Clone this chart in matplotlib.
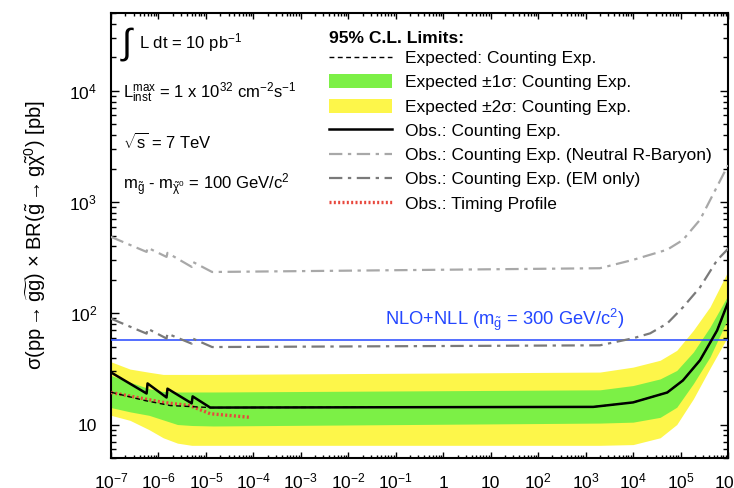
import numpy as np
import matplotlib
matplotlib.use("Agg")
import matplotlib.pyplot as plt
from matplotlib.ticker import LogLocator, FixedLocator, FixedFormatter, NullFormatter
from matplotlib.lines import Line2D
from matplotlib.patches import Patch

plt.rcParams["font.family"] = ["Liberation Sans", "DejaVu Sans"]
plt.rcParams["mathtext.fontset"] = "custom"
plt.rcParams["mathtext.rm"] = "Liberation Sans"
plt.rcParams["mathtext.it"] = "Liberation Sans"
plt.rcParams["mathtext.bf"] = "Liberation Sans:bold"
plt.rcParams["mathtext.sf"] = "Liberation Sans"
plt.rcParams["mathtext.default"] = "rm"

# ---- data: gluino lifetime [s] (log10) vs cross-section limit [pb] ----
obs_logx = [-7, -6.25, -6.23, -5.83, -5.81, -5.30, -5.28, -4.91, 3.16, 4.0, 4.72, 5.05, 5.41, 5.77, 6.0]
obs_y = [29.4, 19.0, 23.4, 17.5, 21.0, 15.5, 17.9, 14.2, 14.4, 15.8, 19.4, 24.9, 37.8, 70.0, 125.0]

exp_logx = [-7, -6.28, -5.75, -4.9, 3.16, 4.0, 4.72, 5.05, 5.41, 5.77, 6.0]
exp_y = [19.5, 16.4, 14.8, 14.2, 14.4, 15.8, 19.4, 24.9, 37.8, 70.0, 125.0]

band_logx = [-7, -6.6, -6.2, -5.9, -5.6, -5.3, -4.85, 3.30, 4.0, 4.57, 4.92, 5.27, 5.62, 5.98]
one_sig_hi = [27.6, 24.0, 21.0, 19.8, 19.6, 19.6, 19.6, 20.5, 22.4, 25.7, 30.6, 44.8, 75.0, 140.0]
one_sig_lo = [14.2, 13.0, 12.1, 11.0, 10.0, 9.8, 9.7, 10.3, 10.5, 11.6, 14.3, 23.3, 40.4, 86.5]
two_sig_hi = [36.6, 31.5, 29.5, 28.2, 28.2, 28.2, 28.2, 29.6, 32.8, 37.8, 46.4, 70.3, 114.0, 230.0]
two_sig_lo = [12.1, 10.9, 9.0, 7.6, 6.8, 6.5, 6.5, 6.5, 6.6, 7.6, 10.0, 17.0, 32.0, 60.0]

timing_logx = [-7, -5.90, -5.34, -4.91, -4.07]
timing_y = [19.4, 15.8, 14.8, 12.5, 11.6]

neutral_logx = [-7, -6.25, -6.23, -5.83, -5.81, -5.30, -5.28, -4.87, 3.30, 4.0, 4.72, 5.05, 5.41, 6.0]
neutral_y = [486, 356, 389, 321, 349, 261, 290, 235, 254, 302, 373, 456, 692, 2140]

em_logx = [-7, -6.25, -6.23, -5.83, -5.81, -5.30, -5.28, -4.87, 3.30, 4.0, 4.36, 4.72, 5.05, 5.41, 5.77, 6.04]
em_y = [89.5, 65.6, 72.8, 59.3, 65.6, 53.3, 59.3, 49.7, 51.5, 59.6, 66.0, 81.0, 113.0, 171.0, 300.0, 395.0]

nlo_xsec = 57.0  # NLO+NLL, m_gluino = 300 GeV/c^2

xtick_exp = list(range(-7, 7))
xtick_labels = ["$10^{%d}$" % e if e not in (0, 1) else ("1" if e == 0 else "10") for e in xtick_exp]
ytick_vals = [10, 100, 1000, 10000]
ytick_labels = ["10", "$10^{2}$", "$10^{3}$", "$10^{4}$"]

# ---- figure ----
W, H = 734, 488
fig = plt.figure(figsize=(W / 100, H / 100), dpi=100)
ax = fig.add_axes([111 / W, 30 / H, 617 / W, 445 / H])

GREEN = "#7cf046"
YELLOW = "#fdf64a"

bx = 10.0 ** np.array(band_logx)
ax.fill_between(bx, two_sig_lo, two_sig_hi, color=YELLOW, lw=0, zorder=1)
ax.fill_between(bx, one_sig_lo, one_sig_hi, color=GREEN, lw=0, zorder=2)

ax.axhline(nlo_xsec, color="#2447ff", lw=1.1, zorder=3)

ax.plot(10.0 ** np.array(neutral_logx), neutral_y, color="#a8a8a8", lw=1.6,
        dashes=(6, 2.5, 1.5, 2.5), zorder=4)
ax.plot(10.0 ** np.array(em_logx), em_y, color="#7a7a7a", lw=1.6,
        dashes=(6, 2.5, 1.5, 2.5), zorder=4)
ax.plot(10.0 ** np.array(obs_logx), obs_y, color="black", lw=1.8, zorder=5)
ax.plot(10.0 ** np.array(exp_logx), exp_y, color="black", lw=1.0,
        dashes=(3.5, 2.5), zorder=6)
ax.plot(10.0 ** np.array(timing_logx), timing_y, color="#e8473c", lw=2.4,
        dashes=(0.6, 0.7), zorder=5)

ax.set_xscale("log")
ax.set_yscale("log")
ax.set_xlim(1e-7, 1e6)
ax.set_ylim(5, 5e4)

ax.xaxis.set_major_locator(FixedLocator([10.0 ** e for e in xtick_exp]))
ax.xaxis.set_major_formatter(FixedFormatter(xtick_labels))
ax.xaxis.set_minor_locator(LogLocator(base=10, subs=np.arange(2, 10), numticks=100))
ax.xaxis.set_minor_formatter(NullFormatter())
ax.yaxis.set_major_locator(FixedLocator(ytick_vals))
ax.yaxis.set_major_formatter(FixedFormatter(ytick_labels))
ax.yaxis.set_minor_locator(LogLocator(base=10, subs=np.arange(2, 10), numticks=100))
ax.yaxis.set_minor_formatter(NullFormatter())

ax.tick_params(which="both", direction="in", top=True, right=True, width=1.0, labelsize=12.5)
ax.tick_params(axis="x", which="major", length=4, pad=21.6)
ax.tick_params(axis="x", which="minor", length=2)
ax.tick_params(axis="y", which="major", length=6, pad=10)
ax.tick_params(axis="y", which="minor", length=3.5)
for t in ax.xaxis.get_major_ticks():
    t.label1.set_verticalalignment("baseline")
for s in ax.spines.values():
    s.set_linewidth(1.5)

ax.set_ylabel(r"σ(pp$\rightarrow\widetilde{\mathrm{gg}}$) $\times$ BR($\tilde{\mathrm{g}}\rightarrow$g$\tilde{\chi}^{0}$) [pb]",
              fontsize=14.5, labelpad=15)

# ---- annotations ----
fkw = dict(transform=fig.transFigure, fontsize=12, va="center", ha="left")
fig.text(122 / W, 1 - 44 / H, "∫", fontsize=26, transform=fig.transFigure,
         va="center", ha="left")
fig.text(139 / W, 1 - 43 / H, r"L dt = 10 pb$^{-1}$", **fkw)
fig.text(123 / W, 1 - 93 / H, r"L$_{\mathrm{inst}}^{\mathrm{max}}$ = 1 x 10$^{32}$ cm$^{-2}$s$^{-1}$", **fkw)
fig.text(123 / W, 1 - 142 / H, r"$\sqrt{\mathrm{s}}$ = 7 TeV", **fkw)
fig.text(123 / W, 1 - 185 / H, r"m$_{\tilde{\mathrm{g}}}$ - m$_{\tilde{\chi}^{0}}$ = 100 GeV/c$^{2}$", **fkw)
fig.text(385 / W, 1 - 320 / H, r"NLO+NLL (m$_{\tilde{\mathrm{g}}}$ = 300 GeV/c$^{2}$)",
         color="#2447ff", **{**fkw, "fontsize": 13.2})

# ---- legend ----
handles = [
    Line2D([], [], color="black", lw=1.0, dashes=(3.5, 2.5)),
    Patch(facecolor=GREEN, edgecolor="none"),
    Patch(facecolor=YELLOW, edgecolor="none"),
    Line2D([], [], color="black", lw=1.8),
    Line2D([], [], color="#a8a8a8", lw=1.6, dashes=(6, 2.5, 1.5, 2.5)),
    Line2D([], [], color="#7a7a7a", lw=1.6, dashes=(6, 2.5, 1.5, 2.5)),
    Line2D([], [], color="#e8473c", lw=2.4, dashes=(0.6, 0.7)),
]
labels = [
    "Expected: Counting Exp.",
    "Expected ±1σ: Counting Exp.",
    "Expected ±2σ: Counting Exp.",
    "Obs.: Counting Exp.",
    "Obs.: Counting Exp. (Neutral R-Baryon)",
    "Obs.: Counting Exp. (EM only)",
    "Obs.: Timing Profile",
]
leg = ax.legend(handles, labels, loc="upper left", bbox_to_anchor=(329 / W, 1 - 31 / H),
                bbox_transform=fig.transFigure, frameon=False, fontsize=12.5,
                handlelength=3.6, handleheight=0.85, handletextpad=0.8,
                labelspacing=0.48, borderpad=0.0, borderaxespad=0,
                title="95% C.L. Limits:", title_fontproperties={"weight": "bold", "size": 12.6},
                alignment="left")
leg._legend_box.sep = 3

fig.savefig("out.png", dpi=100)
